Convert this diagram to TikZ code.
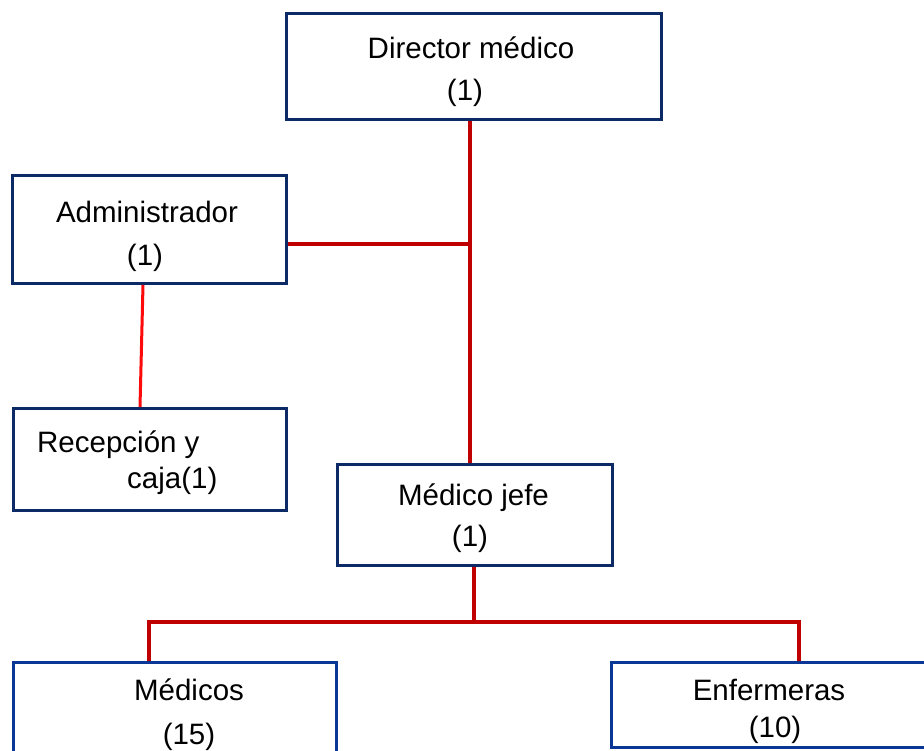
\documentclass[tikz,border=0pt]{standalone}
\usepackage{fontspec}
\setmainfont{Liberation Sans}
\definecolor{navy}{HTML}{0C2A66}
\definecolor{royal}{HTML}{0A3795}
\definecolor{darkred}{HTML}{C00000}
\definecolor{brightred}{HTML}{FF0A0A}
\begin{document}
\begin{tikzpicture}[x=1pt,y=-1pt,
  box/.style={draw=navy,line width=3pt,rectangle,inner sep=0pt},
  lowbox/.style={draw=royal,line width=3pt,rectangle,inner sep=0pt},
  lbl/.style={anchor=base,inner sep=0pt,font=\fontsize{29.5}{36}\selectfont},
  lbll/.style={anchor=base west,inner sep=0pt,font=\fontsize{29.5}{36}\selectfont},
  link/.style={draw=darkred,line width=4pt},
  thinlink/.style={draw=brightred,line width=3pt}]
\useasboundingbox (0,0) rectangle (924,750);
\fill[white] (0,0) rectangle (924,750);

% boxes
\node[box,minimum width=375pt,minimum height=106pt] (dir) at (474,66.5) {};
\node[box,minimum width=274pt,minimum height=108pt] (adm) at (149.5,229.5) {};
\node[box,minimum width=273pt,minimum height=102pt] (rec) at (150,459.5) {};
\node[box,minimum width=275pt,minimum height=101pt] (jefe) at (475,515) {};
\node[lowbox,minimum width=323pt,minimum height=126pt] (med) at (175,725) {};
\node[lowbox,minimum width=317pt,minimum height=85pt] (enf) at (770,705) {};

% connectors
\coordinate (trunk) at (470,244);
\coordinate (bus) at (474,622);
\draw[link] (trunk |- dir.south) -- (trunk |- jefe.north);
\draw[link] (adm.east |- trunk) -- (trunk);
\draw[thinlink] ([xshift=-6.5pt]adm.south) -- ([xshift=-10pt]rec.north);
\coordinate (medtop) at ([xshift=-26pt]med.north);
\coordinate (enftop) at ([xshift=29pt]enf.north);
\draw[link] (jefe.south -| bus) -- (bus);
\draw[link,line join=miter] (medtop) -- (medtop |- bus) -- (enftop |- bus) -- (enftop);

% labels
\node[lbl] (dirA) at (471,58) {Director médico};
\node[lbl] (dirB) at (465,100) {(1)};
\node[lbl] (admA) at (147,222) {Administrador};
\node[lbl] (admB) at (145,265) {(1)};
\node[lbll] (recA) at (37,452) {Recepción y};
\node[lbll] (recB) at (127,488) {caja(1)};
\node[lbl] (jefeA) at (473.5,505) {Médico jefe};
\node[lbl] (jefeB) at (470,546) {(1)};
\node[lbl] (medA) at (189,700) {Médicos};
\node[lbl] (medB) at (189,744) {(15)};
\node[lbl] (enfA) at (769,700) {Enfermeras};
\node[lbl] (enfB) at (775,737) {(10)};
\end{tikzpicture}
\end{document}
